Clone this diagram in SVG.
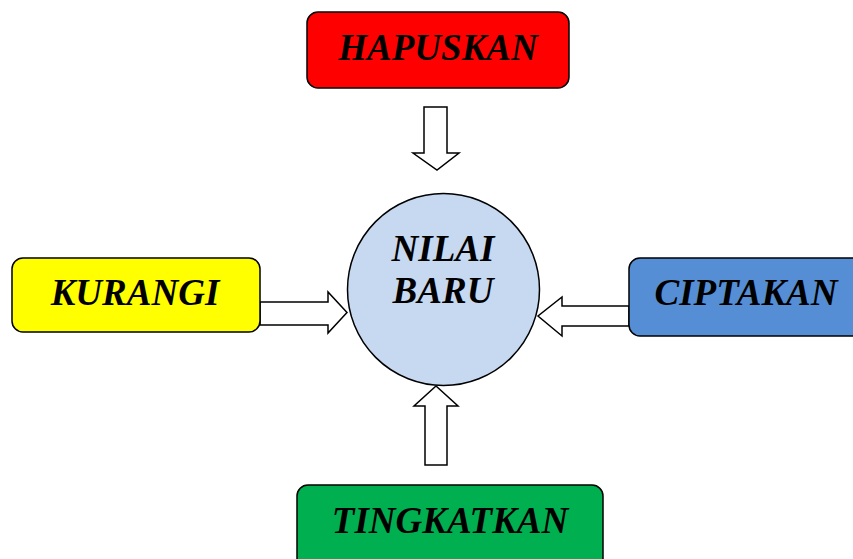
<svg xmlns="http://www.w3.org/2000/svg" width="853" height="559" viewBox="0 0 853 559">
<style>
.box{stroke:#000;stroke-width:1.5}
.lbl{font-family:"Liberation Serif","Times New Roman",serif;font-weight:bold;font-style:italic;font-size:37px;fill:#000;text-anchor:middle}
.arr{fill:#fff;stroke:#000;stroke-width:1.5;stroke-linejoin:miter}
</style>
<rect width="853" height="559" fill="#fff"/>
<g id="connectors">
<polygon class="arr" points="424,107 447,107 447,153 459,153 437,170 413,153 424,153"/>
<polygon class="arr" points="260,302 328,302 328,292 347,312.5 328,333 328,325 260,325"/>
<polygon class="arr" points="629,306 562,306 562,297 538,316 562,336 562,326 629,326"/>
<polygon class="arr" points="425,465 447,465 447,406 458,406 436,386 414,406 425,406"/>
</g>
<g id="hapuskan">
<rect class="box" x="307" y="12" width="262" height="76" rx="11" fill="#FF0000"/>
<text class="lbl" x="438" y="60">HAPUSKAN</text>
</g>
<g id="kurangi">
<rect class="box" x="12" y="258" width="248" height="74" rx="11" fill="#FFFF00"/>
<text class="lbl" x="135" y="305">KURANGI</text>
</g>
<g id="ciptakan">
<rect class="box" x="629" y="258" width="240" height="78" rx="11" fill="#558ED5"/>
<text class="lbl" x="746" y="305">CIPTAKAN</text>
</g>
<g id="tingkatkan">
<rect class="box" x="297" y="485" width="306" height="90" rx="11" fill="#00B050"/>
<text class="lbl" x="450" y="533">TINGKATKAN</text>
</g>
<g id="nilai-baru">
<circle class="box" cx="443.5" cy="289.5" r="96" fill="#C6D9F1"/>
<text class="lbl" x="443" y="261">NILAI</text>
<text class="lbl" x="443" y="303">BARU</text>
</g>
</svg>
